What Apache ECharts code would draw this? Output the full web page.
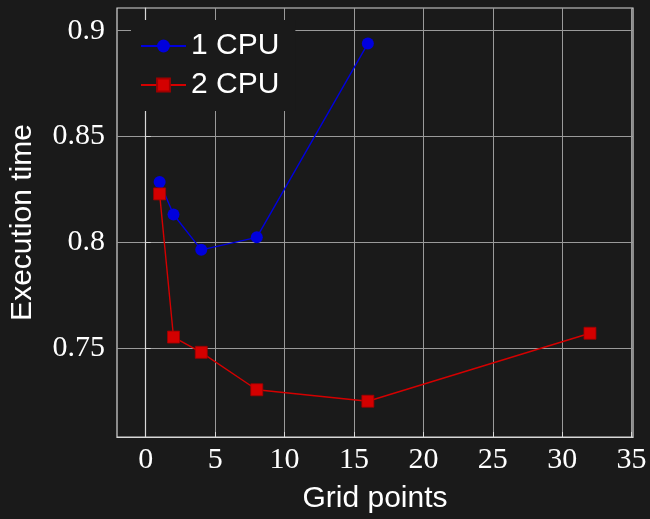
<!DOCTYPE html>
<html>
<head>
<meta charset="utf-8">
<script src="https://cdn.jsdelivr.net/npm/echarts@6/dist/echarts.min.js"></script>
<style>
  html, body { margin: 0; padding: 0; background: #1a1a1a; }
  #chart { width: 650px; height: 519px; }
</style>
</head>
<body>
<div id="chart"></div>
<script>
const xTicks = [0, 5, 10, 15, 20, 25, 30, 35]
const yTicks = [0.75, 0.8, 0.85, 0.9]
const yTickLabels = ['0.75', '0.8', '0.85', '0.9']

const cpu1X = [1, 2, 4, 8, 16]
const cpu1Y = [0.8285, 0.8132, 0.7965, 0.8024, 0.8939]
const cpu2X = [1, 2, 4, 8, 16, 32]
const cpu2Y = [0.8229, 0.7553, 0.7481, 0.7304, 0.725, 0.7571]

const zip = (xs, ys) => xs.map((x, i) => [x, ys[i]])

const serif = 'Liberation Serif'
const sans = 'Liberation Sans'

const chart = echarts.init(document.getElementById('chart'))
chart.setOption({
  backgroundColor: '#1a1a1a',
  animation: false,
  grid: {
    left: 115,
    top: 8,
    right: 17,
    bottom: 81,
    show: true,
    borderColor: '#d8d8d8',
    borderWidth: 1.2,
    backgroundColor: 'transparent'
  },
  legend: {
    orient: 'vertical',
    left: 131,
    top: 20,
    padding: [11, 16, 11, 9],
    itemGap: 9,
    itemWidth: 45,
    itemHeight: 16,
    backgroundColor: '#1a1a1a',
    textStyle: { color: '#ffffff', fontSize: 30, fontFamily: sans },
    data: ['1 CPU', '2 CPU']
  },
  xAxis: {
    type: 'value',
    min: -2.07,
    max: 35.1,
    name: 'Grid points',
    nameLocation: 'middle',
    nameGap: 47,
    nameTextStyle: { color: '#ffffff', fontSize: 30, fontFamily: sans },
    axisLine: { show: true, lineStyle: { color: '#d8d8d8', width: 1.2 } },
    axisTick: { show: true, inside: true, length: 5, customValues: xTicks, lineStyle: { color: '#d8d8d8' } },
    axisLabel: { customValues: xTicks, color: '#ffffff', fontSize: 30, fontFamily: serif, margin: 8 },
    splitLine: { show: true, lineStyle: { color: '#9a9a9a', width: 1 } }
  },
  yAxis: {
    type: 'value',
    min: 0.7081,
    max: 0.9107,
    name: 'Execution time',
    nameLocation: 'middle',
    nameGap: 79,
    nameTextStyle: { color: '#ffffff', fontSize: 30, fontFamily: sans },
    axisLine: { show: true, lineStyle: { color: '#d8d8d8', width: 1.2 } },
    axisTick: { show: true, inside: true, length: 5, customValues: yTicks, lineStyle: { color: '#d8d8d8' } },
    axisLabel: {
      customValues: yTicks,
      color: '#ffffff',
      fontSize: 30,
      fontFamily: serif,
      margin: 12,
      formatter: v => yTickLabels[yTicks.findIndex(t => Math.abs(t - v) < 1e-6)] ?? ''
    },
    splitLine: { show: true, lineStyle: { color: '#9a9a9a', width: 1 } }
  },
  series: [
    {
      name: '1 CPU',
      type: 'line',
      data: zip(cpu1X, cpu1Y),
      symbol: 'circle',
      symbolSize: 12,
      lineStyle: { color: '#0000dd', width: 1.4 },
      itemStyle: { color: '#0000dd' },
      z: 3
    },
    {
      name: '2 CPU',
      type: 'line',
      data: zip(cpu2X, cpu2Y),
      symbol: 'rect',
      symbolSize: 12,
      lineStyle: { color: '#d40000', width: 1.4 },
      itemStyle: { color: '#d40000', borderColor: '#a00000', borderWidth: 0.8 },
      z: 4
    }
  ]
})
</script>
</body>
</html>
